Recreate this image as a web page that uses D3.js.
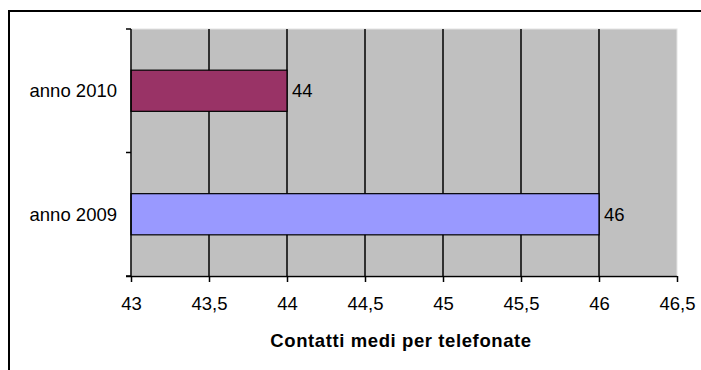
<!DOCTYPE html>
<html>
<head>
<meta charset="utf-8">
<script src="https://cdn.jsdelivr.net/npm/d3@7"></script>
<style>
  html, body { margin: 0; padding: 0; background: #fff; }
  svg { display: block; }
  text { font-family: Arial, "Liberation Sans", sans-serif; fill: #000; }
</style>
</head>
<body>
<svg id="chart" width="701" height="370"></svg>
<script>
// Average contacts per phone call, by year
const categories = ["anno 2009", "anno 2010"];
const values = [46, 44];
const barColors = ["#9999FF", "#993366"];
const xTicks = [43, 43.5, 44, 44.5, 45, 45.5, 46, 46.5];
const xDomain = [43, 46.5];
const axisTitle = "Contatti medi per telefonate";

const svg = d3.select("#chart");
const plot = { left: 131, right: 677, top: 29, bottom: 276 };
const labelSize = "18.5px";

const itLocale = d3.formatLocale({ decimal: ",", thousands: ".", grouping: [3], currency: ["€", ""] });
const fmt = itLocale.format("~g");

// Outer chart frame
svg.append("rect")
  .attr("x", 9).attr("y", 11)
  .attr("width", 720).attr("height", 400)
  .attr("fill", "none").attr("stroke", "#000").attr("stroke-width", 2);

const x = d3.scaleLinear().domain(xDomain).range([plot.left, plot.right]);

// Categories listed bottom-to-top
const yCat = d3.scaleBand()
  .domain(categories.slice().reverse())
  .range([plot.top, plot.bottom]);
const yBar = d3.scaleBand()
  .domain(categories.slice().reverse())
  .range([plot.top, plot.bottom])
  .paddingInner(2 / 3).paddingOuter(1 / 3);

// Plot area background
svg.append("rect")
  .attr("x", plot.left).attr("y", plot.top)
  .attr("width", plot.right - plot.left).attr("height", plot.bottom - plot.top)
  .attr("fill", "#C0C0C0").attr("stroke", "#e4e4e4").attr("stroke-width", 1);

// Vertical gridlines
svg.append("g").selectAll("line")
  .data(xTicks.filter(t => t > xDomain[0] && t < xDomain[1]))
  .join("line")
  .attr("x1", d => x(d)).attr("x2", d => x(d))
  .attr("y1", plot.top).attr("y2", plot.bottom)
  .attr("stroke", "#000").attr("stroke-width", 1.5);

// Bars
const data = categories.map((c, i) => ({ cat: c, value: values[i], color: barColors[i] }));
svg.append("g").selectAll("rect")
  .data(data)
  .join("rect")
  .attr("x", x(xDomain[0]))
  .attr("y", d => yBar(d.cat))
  .attr("width", d => x(d.value) - x(xDomain[0]))
  .attr("height", yBar.bandwidth())
  .attr("fill", d => d.color)
  .attr("stroke", "#000").attr("stroke-width", 1.2);

// Value labels
svg.append("g").selectAll("text")
  .data(data)
  .join("text")
  .attr("x", d => x(d.value) + 5)
  .attr("y", d => yBar(d.cat) + yBar.bandwidth() / 2)
  .attr("dy", "0.36em")
  .style("font-size", labelSize)
  .text(d => fmt(d.value));

// X axis
const xAxis = d3.axisBottom(x)
  .tickValues(xTicks)
  .tickSize(6)
  .tickPadding(15)
  .tickFormat(fmt);
const gx = svg.append("g")
  .attr("transform", `translate(0,${plot.bottom})`)
  .call(xAxis);
gx.select(".domain").attr("stroke", "#000").attr("stroke-width", 1.5).attr("d", `M${plot.left - 5},0.5H${plot.right}`);
gx.selectAll(".tick line").attr("stroke", "#000").attr("stroke-width", 1.5);
gx.selectAll(".tick text")
  .attr("font-family", "Arial, 'Liberation Sans', sans-serif")
  .style("font-size", labelSize).attr("fill", "#000");

// Y axis line with ticks at category boundaries
const gy = svg.append("g");
gy.append("line")
  .attr("x1", plot.left).attr("x2", plot.left)
  .attr("y1", plot.top).attr("y2", plot.bottom)
  .attr("stroke", "#000").attr("stroke-width", 1.5);
const bounds = [plot.top].concat(yCat.domain().map(c => yCat(c) + yCat.step()));
gy.selectAll("line.tick")
  .data(bounds)
  .join("line")
  .attr("class", "tick")
  .attr("x1", plot.left - 5).attr("x2", plot.left)
  .attr("y1", d => d).attr("y2", d => d)
  .attr("stroke", "#000").attr("stroke-width", 1.5);
gy.selectAll("text")
  .data(yCat.domain())
  .join("text")
  .attr("x", plot.left - 14)
  .attr("y", d => yCat(d) + yCat.bandwidth() / 2)
  .attr("dy", "0.36em")
  .attr("text-anchor", "end")
  .style("font-size", labelSize)
  .text(d => d);

// Axis title
svg.append("text")
  .attr("x", (plot.left + plot.right) / 2 - 3)
  .attr("y", 347)
  .attr("text-anchor", "middle")
  .style("font-size", "18.5px")
  .style("font-weight", "bold")
  .style("letter-spacing", "0.6px")
  .text(axisTitle);
</script>
</body>
</html>
